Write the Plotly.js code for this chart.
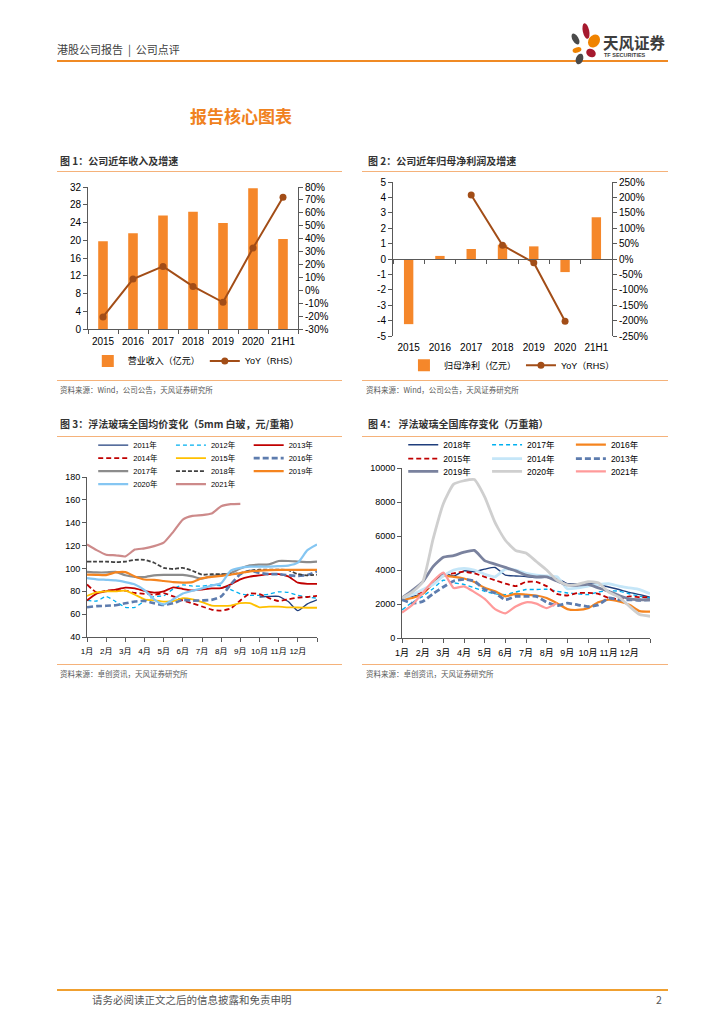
<!DOCTYPE html>
<html lang="zh-CN">
<head>
<meta charset="utf-8">
<title>报告核心图表</title>
<script src="https://cdn.plot.ly/plotly-3.0.1.min.js"></script>
<style>
html,body{margin:0;padding:0;background:#fff;}
#page{position:relative;width:724px;height:1024px;overflow:hidden;background:#fff;font-family:"Noto Sans CJK SC","Liberation Sans",sans-serif;color:#333;}
.t{position:absolute;white-space:nowrap;line-height:1;}
.rule{position:absolute;height:1px;background:#F5B27A;}
.chart{position:absolute;}
.ct{position:absolute;white-space:nowrap;line-height:1;font-size:10px;font-weight:700;color:#333;}
.src{position:absolute;white-space:nowrap;line-height:1;font-size:7.5px;color:#595959;}
</style>
</head>
<body>
<div id="page">
  <div class="t" style="left:57px;top:44px;font-size:11px;color:#404040;">港股公司报告&nbsp;&nbsp;|&nbsp;&nbsp;公司点评</div>
  <div style="position:absolute;left:57px;top:60px;width:611px;height:2px;background:#F08A24;"></div>
  <svg style="position:absolute;left:566px;top:20px;" width="40" height="46" viewBox="566 20 40 46">
    <ellipse cx="586" cy="31" rx="3.2" ry="8" transform="rotate(-12 586 31)" fill="#A6192E"/>
    <ellipse cx="594" cy="41" rx="5.5" ry="7" transform="rotate(35 594 41)" fill="#F08300"/>
    <ellipse cx="575.5" cy="39" rx="3" ry="6" transform="rotate(-30 575.5 39)" fill="#4A4A4A"/>
    <ellipse cx="577" cy="50" rx="4.5" ry="2.6" transform="rotate(-15 577 50)" fill="#F08300"/>
    <ellipse cx="591" cy="53" rx="5" ry="4" transform="rotate(30 591 53)" fill="#A6192E"/>
    <ellipse cx="579.5" cy="59" rx="3.6" ry="5.5" transform="rotate(20 579.5 59)" fill="#4A4A4A"/>
  </svg>
  <div class="t" style="left:603px;top:35px;font-size:15.5px;font-weight:700;color:#3d3d3d;">天风证券</div>
  <div class="t" style="left:604px;top:53px;font-size:5.5px;font-weight:700;color:#3d3d3d;font-family:'Liberation Sans',sans-serif;">TF SECURITIES</div>

  <div class="t" style="left:190px;top:107px;font-size:17px;font-weight:700;color:#F0821E;">报告核心图表</div>

  <div class="ct" style="left:60px;top:156px;">图 1：公司近年收入及增速</div>
  <div class="rule" style="left:57px;top:171px;width:285px;"></div>
  <div class="chart" id="c1" style="left:57px;top:172px;width:285px;height:206px;"></div>
  <div class="rule" style="left:57px;top:380px;width:285px;"></div>
  <div class="src" style="left:60px;top:386px;">资料来源：Wind，公司公告，天风证券研究所</div>

  <div class="ct" style="left:368px;top:156px;">图 2：公司近年归母净利润及增速</div>
  <div class="rule" style="left:362px;top:171px;width:306px;"></div>
  <div class="chart" id="c2" style="left:362px;top:172px;width:306px;height:206px;"></div>
  <div class="rule" style="left:362px;top:380px;width:306px;"></div>
  <div class="src" style="left:366px;top:386px;">资料来源：Wind，公司公告，天风证券研究所</div>

  <div class="ct" style="left:60px;top:419px;">图 3：浮法玻璃全国均价变化（5mm 白玻，元/重箱）</div>
  <div class="rule" style="left:57px;top:436px;width:285px;"></div>
  <div class="chart" id="c3" style="left:57px;top:437px;width:285px;height:225px;"></div>
  <div class="rule" style="left:57px;top:664px;width:285px;"></div>
  <div class="src" style="left:60px;top:670px;">资料来源：卓创资讯，天风证券研究所</div>

  <div class="ct" style="left:368px;top:419px;">图 4：&nbsp;浮法玻璃全国库存变化（万重箱）</div>
  <div class="rule" style="left:362px;top:436px;width:306px;"></div>
  <div class="chart" id="c4" style="left:362px;top:437px;width:306px;height:225px;"></div>
  <div class="rule" style="left:362px;top:664px;width:306px;"></div>
  <div class="src" style="left:366px;top:670px;">资料来源：卓创资讯，天风证券研究所</div>

  <div style="position:absolute;left:57px;top:989px;width:611px;height:2px;background:#F0A030;"></div>
  <div class="t" style="left:92px;top:995px;font-size:10.5px;color:#555;">请务必阅读正文之后的信息披露和免责申明</div>
  <div class="t" style="left:656px;top:995px;font-size:10.5px;color:#555;">2</div>
</div>

<script>
// ---------- data: 图1 / 图2 ----------
const finCategories = ['2015', '2016', '2017', '2018', '2019', '2020', '21H1'];
const revenue = [19.8, 21.6, 25.6, 26.4, 23.9, 31.7, 20.3];          // 营业收入（亿元）
const revenueYoY = [-20.7, 8.7, 18.5, 3.0, -9.3, 32.7, 72.0];        // %
const netProfit = [-4.23, 0.20, 0.65, 0.93, 0.82, -0.85, 2.71];      // 归母净利（亿元）
const netProfitYoY = [null, null, 208, 44.5, -12, -202, null];       // %

const revTicks = [0, 4, 8, 12, 16, 20, 24, 28, 32];
const revYoYTicks = [-30, -20, -10, 0, 10, 20, 30, 40, 50, 60, 70, 80];
const npTicks = [-5, -4, -3, -2, -1, 0, 1, 2, 3, 4, 5];
const npYoYTicks = [-250, -200, -150, -100, -50, 0, 50, 100, 150, 200, 250];

// ---------- data: 图3 / 图4 (x = month position, 1 = 1月初) ----------
const monthPos = [1, 1.5, 2, 2.5, 3, 3.5, 4, 4.5, 5, 5.5, 6, 6.5, 7, 7.5, 8, 8.5, 9, 9.5, 10, 10.5, 11, 11.5, 12, 12.5, 13];
const monthTickVals = [1, 2, 3, 4, 5, 6, 7, 8, 9, 10, 11, 12, 13];
const monthTickText = ['1月', '2月', '3月', '4月', '5月', '6月', '7月', '8月', '9月', '10月', '11月', '12月', ''];

const priceTicks = [40, 60, 80, 100, 120, 140, 160, 180];
const price2011 = [null, null, null, null, null, null, null, null, null, null, null, null, null, null, null, null, null, null, 75, 75.5, 75.5, 71, 63, 69, 72.5];
const price2012 = [72, 71.5, 75.5, 71, 66, 66, 71.5, 75.4, 76, 82, 85.6, 84.5, 84.5, 85.6, 84.8, 81.5, 77.8, 76.5, 76.5, 77.5, 79.5, 79, 76.5, 75, 74];
const price2013 = [72, 78, 80, 81.5, 83.2, 82.5, 80.3, 78.8, 80, 83.5, 82, 80.8, 81.5, 82.5, 82.7, 86, 90.5, 92.8, 94, 95, 95, 93, 87.5, 86.5, 86.5];
const price2014 = [86, 79, 80.6, 80.8, 80.5, 78.5, 77.8, 77, 78.4, 75.5, 72, 69.5, 66.7, 64, 63, 65, 72, 78, 77.5, 74, 71.5, 73, 74.5, 75, 76];
const price2015 = [76, 79, 80, 80, 80.5, 77, 73, 72, 71, 71.5, 74, 73, 70.5, 67.5, 67.3, 67.5, 69.6, 69.6, 66, 66.5, 66.5, 66, 65.8, 65.6, 65.6];
const price2016 = [66, 67, 67.3, 67.8, 69.5, 71, 71.6, 69.5, 68, 69.5, 72.5, 71.8, 72, 72.5, 75.5, 86, 95, 98, 96, 95, 95, 94, 93.4, 94.3, 97.5];
const price2017 = [97, 96.5, 96.5, 97, 94, 92.5, 92.5, 94, 94.3, 94.3, 94.3, 93, 91, 93.4, 94.3, 96, 100, 102.7, 103.3, 103.6, 106.5, 106.5, 106, 105.5, 106];
const price2018 = [106, 106, 106, 105.5, 106, 107.5, 107.5, 105, 100.5, 99.5, 100.5, 98, 94.5, 95, 95, 95, 96, 98, 99, 99, 99, 98.5, 95, 94, 94.5];
const price2019 = [94.6, 94.4, 94.2, 96.5, 96.8, 93, 90.3, 90, 89, 88, 87.6, 88, 91.4, 92.5, 93.5, 94.5, 96, 97.5, 98, 98.5, 98.7, 98.7, 98.7, 98.7, 98.7];
const price2020 = [91.5, 90.5, 90, 89.5, 88, 86, 81, 73, 68.5, 73, 78, 80.5, 82.5, 85, 87, 98, 100.5, 101.5, 101.5, 101.5, 102, 102.5, 105, 116, 121];
const price2021 = [121, 116, 112, 111.5, 110.5, 116.5, 117.5, 119.5, 122.5, 132, 142.8, 146, 146.6, 148, 154.4, 156.2, 156.5, null, null, null, null, null, null, null, null];

const invTicks = [0, 2000, 4000, 6000, 8000, 10000];
const inv2018 = [2350, 2450, 2600, 3200, 3800, 3650, 3950, 3900, 4050, 4150, 3700, 3650, 3620, 3550, 3570, 3500, 3200, 3200, 3200, 3150, 3000, 2850, 2680, 2550, 2400];
const inv2017 = [1650, 2100, 2450, 2900, 3400, 3250, 3150, 2950, 2750, 2600, 2550, 2700, 2850, 2850, 2870, 2750, 2650, 2600, 2550, 2700, 2780, 2750, 2600, 2450, 2350];
const inv2016 = [2250, 2350, 2600, 3200, 3650, 3600, 3500, 3300, 2950, 2750, 2450, 2600, 2550, 2500, 2350, 2050, 1700, 1650, 1750, 2100, 2250, 2150, 1950, 1580, 1550];
const inv2015 = [2350, 2550, 2700, 3200, 3700, 3800, 3900, 3800, 3600, 3400, 3200, 3050, 3300, 3300, 3050, 2600, 2500, 2650, 2650, 2600, 2350, 2300, 2450, 2400, 2400];
const inv2014 = [2350, 2550, 2850, 3150, 3650, 4000, 4100, 4000, 3750, 3600, 4050, 4000, 3800, 3700, 3650, 3600, 2900, 2950, 3050, 3150, 3200, 3050, 2950, 2850, 2600];
const inv2013 = [2250, 2050, 2150, 2600, 3000, 3350, 3450, 3350, 2850, 2650, 2250, 2450, 2450, 2450, 2100, 1900, 2050, 1950, 1850, 1950, 2350, 2250, 2250, 2220, 2250];
const inv2019 = [2350, 2800, 3300, 4200, 4750, 4850, 5050, 5150, 4550, 4350, 4150, 3950, 3700, 3600, 3600, 3350, 3120, 3100, 3150, 2950, 2750, 2500, 2300, 2250, 2250];
const inv2020 = [2350, 2700, 3300, 5800, 7900, 9050, 9250, 9320, 8300, 6800, 5750, 5150, 5000, 4500, 4000, 3400, 3120, 3150, 3320, 3250, 2700, 2400, 1870, 1380, 1280];
const inv2021 = [1500, 1950, 2650, 3350, 3850, 2940, 3040, 2700, 2300, 1700, 1450, 1850, 2100, 2020, 1760, 2050, null, null, null, null, null, null, null, null, null];

// ---------- styling ----------
const FONT = 'Liberation Sans, Arial, Noto Sans CJK SC, sans-serif';
const AX = '#595959';
const ORANGE = '#F5872A';
const BROWN = '#A24D17';
const cfg = {staticPlot: true, displayModeBar: false};

function baseAxis(extra) {
  return Object.assign({showline: true, linecolor: AX, linewidth: 1, ticks: 'outside', ticklen: 4,
    tickcolor: AX, tickwidth: 1, showgrid: false, zeroline: false, fixedrange: true, tickangle: 0}, extra);
}
function pct(v) { return String(v) + '%'; }

// ---------- 图1 ----------
Plotly.newPlot('c1', [
  {type: 'bar', x: finCategories, y: revenue, name: '营业收入（亿元）', width: 0.32,
   marker: {color: ORANGE}, xaxis: 'x', yaxis: 'y'},
  {type: 'scatter', mode: 'lines+markers', x: finCategories, y: revenueYoY, name: 'YoY（RHS）',
   line: {color: BROWN, width: 2}, marker: {color: BROWN, size: 7}, xaxis: 'x', yaxis: 'y2'}
], {
  width: 285, height: 206, margin: {l: 31, r: 44, t: 15, b: 49, autoexpand: false},
  paper_bgcolor: 'rgba(0,0,0,0)', plot_bgcolor: 'rgba(0,0,0,0)',
  font: {family: FONT, size: 10, color: '#000'},
  showlegend: true,
  legend: {orientation: 'h', x: -0.001, xanchor: 'left', y: -0.225, yanchor: 'middle',
           font: {size: 9, color: '#000'}, bgcolor: 'rgba(0,0,0,0)', itemwidth: 30},
  xaxis: baseAxis({type: 'category', range: [-0.5, 6.5], tickson: 'boundaries', ticklabelstandoff: 3}),
  yaxis: baseAxis({range: [0, 32], tickvals: revTicks, ticktext: revTicks.map(String)}),
  yaxis2: baseAxis({overlaying: 'y', side: 'right', range: [-30, 80], tickvals: revYoYTicks,
                    ticktext: revYoYTicks.map(pct)})
}, cfg);

// ---------- 图2 ----------
Plotly.newPlot('c2', [
  {type: 'bar', x: finCategories, y: netProfit, name: '归母净利（亿元）', width: 0.3,
   marker: {color: ORANGE}, xaxis: 'x', yaxis: 'y'},
  {type: 'scatter', mode: 'lines+markers', x: finCategories, y: netProfitYoY, name: 'YoY（RHS）',
   line: {color: BROWN, width: 2}, marker: {color: BROWN, size: 7}, xaxis: 'x2', yaxis: 'y2'}
], {
  width: 306, height: 206, margin: {l: 31, r: 56, t: 10, b: 42, autoexpand: false},
  paper_bgcolor: 'rgba(0,0,0,0)', plot_bgcolor: 'rgba(0,0,0,0)',
  font: {family: FONT, size: 10, color: '#000'},
  showlegend: true,
  legend: {orientation: 'h', x: 0.05, xanchor: 'left', y: -0.19, yanchor: 'middle',
           font: {size: 9, color: '#000'}, bgcolor: 'rgba(0,0,0,0)', itemwidth: 30},
  xaxis: {type: 'category', range: [-0.5, 6.5], showline: false, ticks: '', showgrid: false,
          zeroline: false, fixedrange: true, tickangle: 0, ticklabelstandoff: 4},
  xaxis2: baseAxis({type: 'category', overlaying: 'x', anchor: 'free', position: 0.5,
                    range: [-0.5, 6.5], tickson: 'boundaries', showticklabels: false}),
  yaxis: baseAxis({range: [-5, 5], tickvals: npTicks, ticktext: npTicks.map(String)}),
  yaxis2: baseAxis({overlaying: 'y', side: 'right', anchor: 'x2', range: [-250, 250],
                    tickvals: npYoYTicks, ticktext: npYoYTicks.map(pct)})
}, cfg);

// ---------- 图3 ----------
const priceYears = ['2011年', '2012年', '2013年', '2014年', '2015年', '2016年', '2017年', '2018年', '2019年', '2020年', '2021年'];
const priceSeries = [price2011, price2012, price2013, price2014, price2015, price2016, price2017, price2018, price2019, price2020, price2021];
const priceStyle = [
  {color: '#1F3E7C', width: 1.3, dash: 'solid'},
  {color: '#00B0F0', width: 1.3, dash: '4px,3px'},
  {color: '#C00000', width: 1.8, dash: 'solid'},
  {color: '#C00000', width: 1.8, dash: '5px,3px'},
  {color: '#FFC000', width: 1.8, dash: 'solid'},
  {color: '#5D7CAE', width: 2.6, dash: '6px,3px'},
  {color: '#8C8C8C', width: 2.2, dash: 'solid'},
  {color: '#404040', width: 1.8, dash: '4px,2px'},
  {color: '#F5841F', width: 2.2, dash: 'solid'},
  {color: '#85C6F2', width: 2.2, dash: 'solid'},
  {color: '#CD8A8A', width: 2.2, dash: 'solid'}
];
const legendIds = ['legend', 'legend2', 'legend3', 'legend4'];

function lineTraces(years, series, styles) {
  return years.map(function (name, i) {
    return {type: 'scatter', mode: 'lines', x: monthPos, y: series[i], name: name,
      legend: legendIds[Math.floor(i / 3)], connectgaps: false,
      line: {color: styles[i].color, width: styles[i].width, dash: styles[i].dash,
             shape: 'spline', smoothing: 0.5}};
  });
}
function rowLegend(x, y, size) {
  return {orientation: 'h', x: x, xanchor: 'left', y: y, yanchor: 'middle',
          entrywidthmode: 'fraction', entrywidth: 0.338, itemwidth: 30,
          font: {size: size, color: '#000'}, bgcolor: 'rgba(0,0,0,0)'};
}

const c3Rows = [1.199, 1.118, 1.037, 0.955];
const layout3 = {
  width: 285, height: 225, margin: {l: 29.7, r: 25.3, t: 39.7, b: 24.7, autoexpand: false},
  paper_bgcolor: 'rgba(0,0,0,0)', plot_bgcolor: 'rgba(0,0,0,0)',
  font: {family: FONT, size: 9, color: '#000'},
  showlegend: true,
  xaxis: baseAxis({range: [1, 13], tickvals: monthTickVals, ticktext: monthTickText, tickfont: {size: 8}, ticklabelstandoff: 2}),
  yaxis: baseAxis({range: [40, 180], tickvals: priceTicks, ticktext: priceTicks.map(String)})
};
c3Rows.forEach(function (y, k) { layout3[legendIds[k]] = rowLegend(0.027, y, 7.5); });
Plotly.newPlot('c3', lineTraces(priceYears, priceSeries, priceStyle), layout3, cfg);

// ---------- 图4 ----------
const invYears = ['2018年', '2017年', '2016年', '2015年', '2014年', '2013年', '2019年', '2020年', '2021年'];
const invSeries = [inv2018, inv2017, inv2016, inv2015, inv2014, inv2013, inv2019, inv2020, inv2021];
const invStyle = [
  {color: '#1F3E7C', width: 1.4, dash: 'solid'},
  {color: '#00B0F0', width: 1.4, dash: '4px,3px'},
  {color: '#F5841F', width: 2.2, dash: 'solid'},
  {color: '#C00000', width: 1.8, dash: '5px,3px'},
  {color: '#C5E6F8', width: 2.8, dash: 'solid'},
  {color: '#5D7CAE', width: 2.8, dash: '6px,3px'},
  {color: '#7A829E', width: 2.8, dash: 'solid'},
  {color: '#CFCFCF', width: 2.8, dash: 'solid'},
  {color: '#FF9A9A', width: 2.2, dash: 'solid'}
];
const c4Rows = [1.137, 1.055, 0.98];
const layout4 = {
  width: 306, height: 225, margin: {l: 39.7, r: 18, t: 31.3, b: 23.7, autoexpand: false},
  paper_bgcolor: 'rgba(0,0,0,0)', plot_bgcolor: 'rgba(0,0,0,0)',
  font: {family: FONT, size: 9, color: '#000'},
  showlegend: true,
  xaxis: baseAxis({range: [1, 13], tickvals: monthTickVals, ticktext: monthTickText, ticklabelstandoff: 2}),
  yaxis: baseAxis({range: [0, 10000], tickvals: invTicks, ticktext: invTicks.map(String)})
};
c4Rows.forEach(function (y, k) { layout4[legendIds[k]] = rowLegend(0.005, y, 8.5); });
Plotly.newPlot('c4', lineTraces(invYears, invSeries, invStyle), layout4, cfg);
</script>
</body>
</html>
